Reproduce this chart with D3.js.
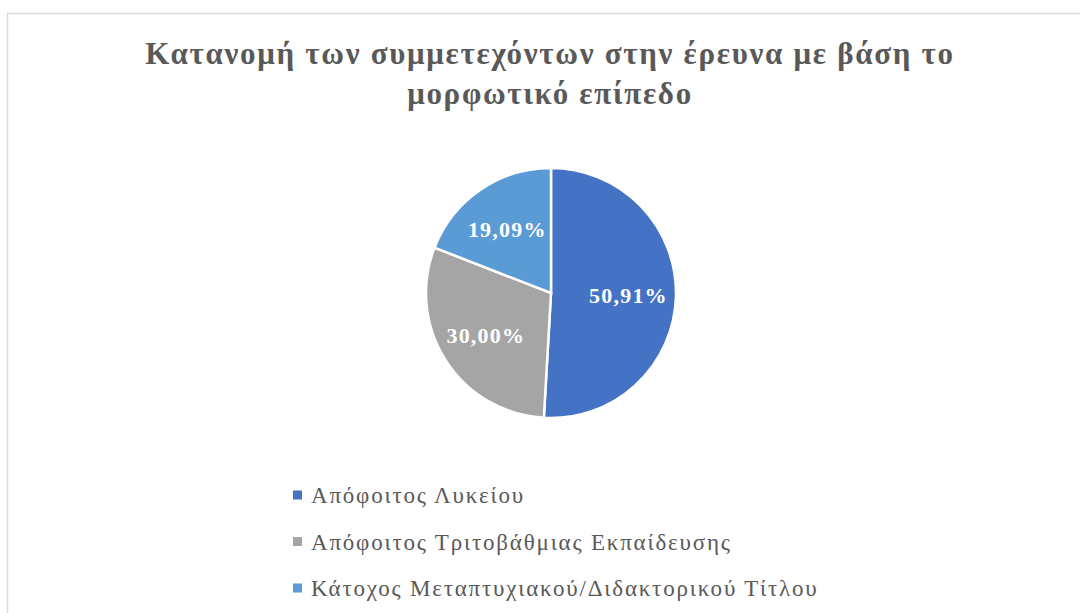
<!DOCTYPE html>
<html>
<head>
<meta charset="utf-8">
<script src="https://cdn.jsdelivr.net/npm/d3@7"></script>
<style>
  body { margin: 0; background: #fff; }
  #chart { width: 1080px; height: 613px; }
  text { font-family: "Liberation Serif", "DejaVu Serif", serif; }
</style>
</head>
<body>
<div id="chart"></div>
<script>
const categories = ["Απόφοιτος Λυκείου", "Απόφοιτος Τριτοβάθμιας Εκπαίδευσης", "Κάτοχος Μεταπτυχιακού/Διδακτορικού Τίτλου"];
const values = [50.91, 30.00, 19.09];
const labels = ["50,91%", "30,00%", "19,09%"];
const colors = ["#4472C4", "#A5A5A5", "#5B9BD5"];
const titleLines = ["Κατανομή των συμμετεχόντων στην έρευνα με βάση το", "μορφωτικό επίπεδο"];

const width = 1080;
const height = 613;

const svg = d3.select("#chart")
    .append("svg")
    .attr("width", width)
    .attr("height", height);

// chart border
svg.append("rect")
    .attr("x", 7.5)
    .attr("y", 13.5)
    .attr("width", width + 20)
    .attr("height", height + 20)
    .attr("fill", "none")
    .attr("stroke", "#d9d9d9")
    .attr("stroke-width", 1.5);

// title
svg.selectAll(".title")
    .data(titleLines)
    .enter()
    .append("text")
    .attr("class", "title")
    .attr("x", 550)
    .attr("y", function(d, i) { return 64 + i * 40; })
    .attr("text-anchor", "middle")
    .attr("font-size", 31)
    .attr("letter-spacing", 1.7)
    .attr("font-weight", "bold")
    .attr("fill", "#595959")
    .text(function(d) { return d; });

// pie
const cx = 551, cy = 293, r = 125;
const pie = d3.pie().sort(null).value(function(d) { return d; });
const arc = d3.arc().innerRadius(0).outerRadius(r);
const labelArc = d3.arc().innerRadius(r * 0.62).outerRadius(r * 0.62);

const g = svg.append("g").attr("transform", `translate(${cx},${cy})`);
const arcs = pie(values);

g.selectAll("path")
    .data(arcs)
    .enter()
    .append("path")
    .attr("d", arc)
    .attr("fill", function(d, i) { return colors[i]; })
    .attr("stroke", "#fff")
    .attr("stroke-width", 2.5);

g.selectAll(".lbl")
    .data(arcs)
    .enter()
    .append("text")
    .attr("class", "lbl")
    .attr("transform", function(d) { return `translate(${labelArc.centroid(d)})`; })
    .attr("text-anchor", "middle")
    .attr("dy", "0.35em")
    .attr("font-size", 22)
    .attr("letter-spacing", 1.2)
    .attr("font-weight", "bold")
    .attr("fill", "#fff")
    .text(function(d, i) { return labels[i]; });

// legend
const legend = svg.selectAll(".legend")
    .data(categories)
    .enter()
    .append("g")
    .attr("class", "legend")
    .attr("transform", function(d, i) { return `translate(293,${495 + i * 46.5})`; });

legend.append("rect")
    .attr("x", 0)
    .attr("y", -4.5)
    .attr("width", 9)
    .attr("height", 9)
    .attr("fill", function(d, i) { return colors[i]; });

legend.append("text")
    .attr("x", 18)
    .attr("dy", "0.35em")
    .attr("font-size", 23)
    .attr("letter-spacing", 1.8)
    .attr("fill", "#595959")
    .text(function(d) { return d; });
</script>
</body>
</html>
